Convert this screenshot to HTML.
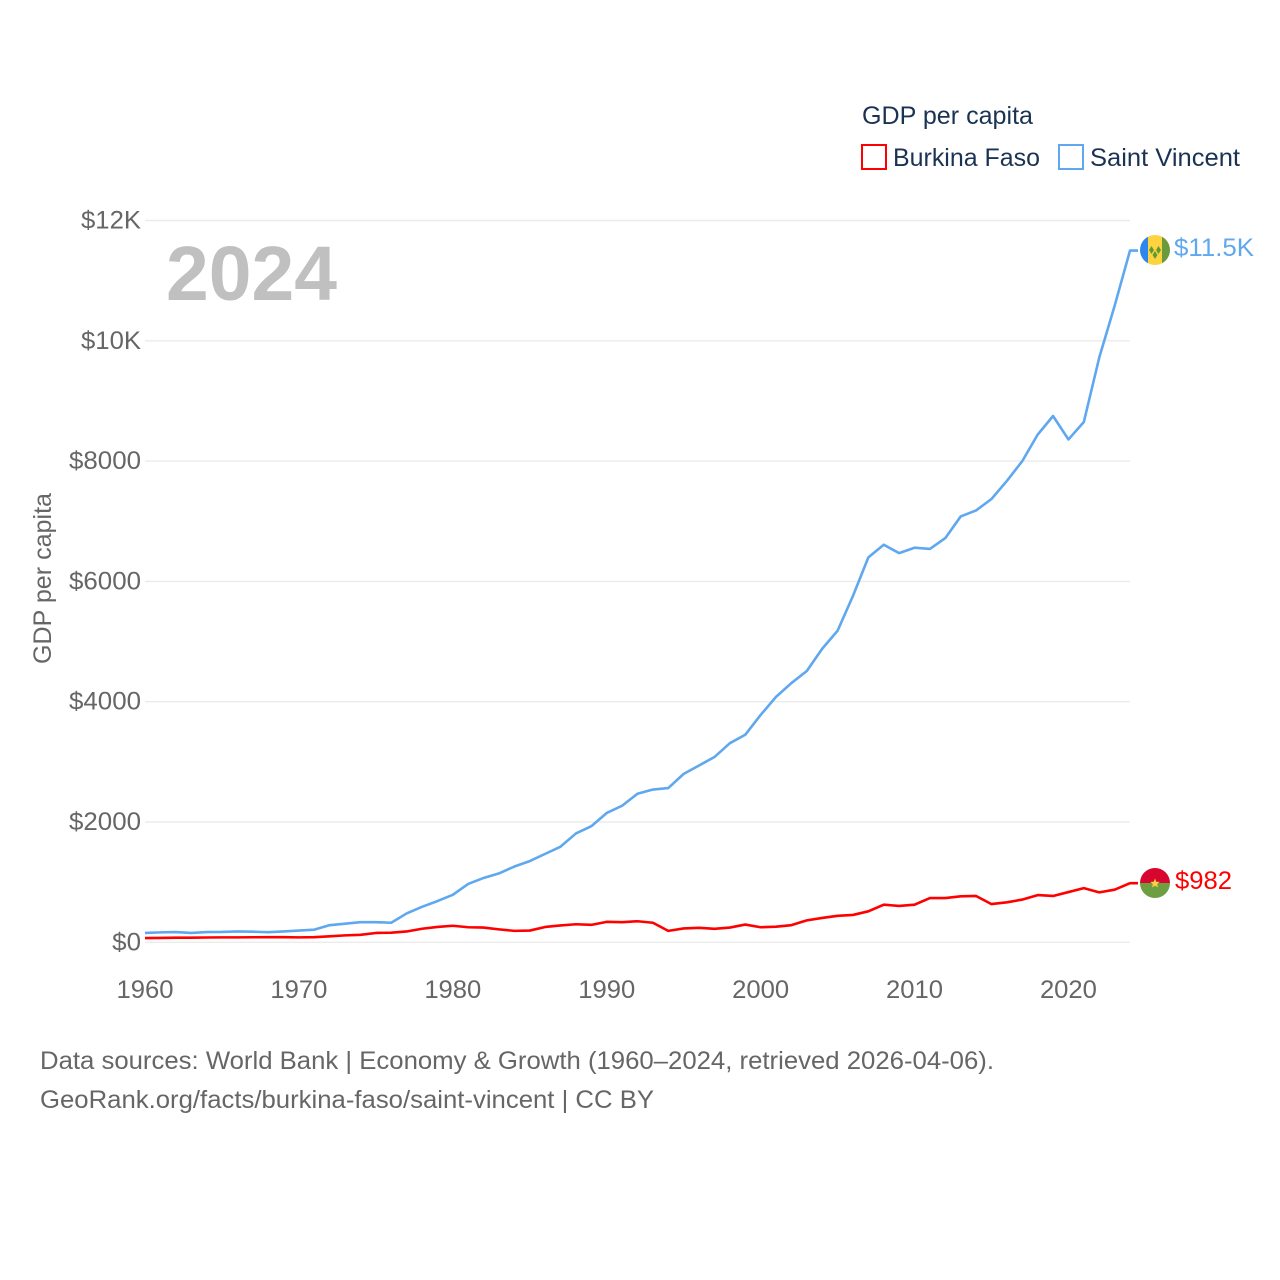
<!DOCTYPE html>
<html lang="en">
<head>
<meta charset="utf-8">
<title>GDP per capita: Burkina Faso vs Saint Vincent</title>
<style>
html,body{margin:0;padding:0;background:#fff;}
svg{display:block;font-family:"Liberation Sans",sans-serif;}
</style>
</head>
<body>
<svg id="chart" xmlns="http://www.w3.org/2000/svg" width="1280" height="1280" viewBox="0 0 1280 1280">
  <rect x="0" y="0" width="1280" height="1280" fill="#ffffff"/>
  <g id="grid"></g>
  <g id="yticks"></g>
  <g id="xticks"></g>
  <text transform="translate(51 664) rotate(-90)" font-size="25" fill="#666666" textLength="171" lengthAdjust="spacingAndGlyphs">GDP per capita</text>
  <text x="166" y="300" font-size="77" font-weight="700" fill="#c0c0c0" textLength="171" lengthAdjust="spacingAndGlyphs">2024</text>
  <g id="series"></g>

  <g>
    <text x="862" y="124" font-size="25" fill="#1b3353" textLength="171" lengthAdjust="spacingAndGlyphs">GDP per capita</text>
    <g>
      <rect x="862" y="145" width="24" height="24" fill="none" stroke="#ff0000" stroke-width="2"/>
      <text x="893" y="166" font-size="25" fill="#1b3353" textLength="147" lengthAdjust="spacingAndGlyphs">Burkina Faso</text>
    </g>
    <g>
      <rect x="1059" y="145" width="24" height="24" fill="none" stroke="#5fa8ef" stroke-width="2"/>
      <text x="1090" y="166" font-size="25" fill="#1b3353" textLength="150" lengthAdjust="spacingAndGlyphs">Saint Vincent</text>
    </g>
  </g>

  <defs>
    <clipPath id="flag-clip-a"><circle cx="1155" cy="250" r="15"/></clipPath>
    <clipPath id="flag-clip-b"><circle cx="1155" cy="883" r="15"/></clipPath>
  </defs>
  <g id="flag-vc" clip-path="url(#flag-clip-a)">
    <rect x="1140" y="235" width="8" height="30" fill="#2f86ee"/>
    <rect x="1148" y="235" width="14" height="30" fill="#fdd43f"/>
    <rect x="1162" y="235" width="8" height="30" fill="#6a9a3c"/>
    <path d="M1151.500 246l2.500 4-2.500 4-2.500-4zM1158.500 246l2.500 4-2.500 4-2.500-4zM1155 251l2.500 4-2.500 4-2.500-4z" fill="#5f9a38"/>
  </g>
  <g id="flag-bf" clip-path="url(#flag-clip-b)">
    <rect x="1140" y="868" width="30" height="15" fill="#d8052f"/>
    <rect x="1140" y="883" width="30" height="15" fill="#6f9e42"/>
    <path d="M1155 878.500l1.300 3.200 3.400.2-2.600 2.200.9 3.300-3-1.800-3 1.800.9-3.300-2.600-2.200 3.400-.2z" fill="#fdd43f"/>
  </g>
  <text id="label-vc" x="1174" y="256" font-size="25" fill="#5fa8ef" textLength="80" lengthAdjust="spacingAndGlyphs"></text>
  <text id="label-bf" x="1175" y="889" font-size="25" fill="#ff0000" textLength="57" lengthAdjust="spacingAndGlyphs"></text>

  <g>
    <text x="40" y="1069" font-size="25" fill="#666666" textLength="954" lengthAdjust="spacingAndGlyphs">Data sources: World Bank | Economy &amp; Growth (1960–2024, retrieved 2026-04-06).</text>
    <text x="40" y="1108" font-size="25" fill="#666666" textLength="614" lengthAdjust="spacingAndGlyphs">GeoRank.org/facts/burkina-faso/saint-vincent | CC BY</text>
  </g>
</svg>
<script>
const years = [1960,1961,1962,1963,1964,1965,1966,1967,1968,1969,1970,1971,1972,1973,1974,1975,1976,1977,1978,1979,1980,1981,1982,1983,1984,1985,1986,1987,1988,1989,1990,1991,1992,1993,1994,1995,1996,1997,1998,1999,2000,2001,2002,2003,2004,2005,2006,2007,2008,2009,2010,2011,2012,2013,2014,2015,2016,2017,2018,2019,2020,2021,2022,2023,2024];
const saintVincent = [155,165,170,155,170,172,180,176,168,180,195,210,285,310,335,335,325,480,590,685,790,970,1070,1145,1260,1350,1470,1590,1810,1930,2150,2270,2470,2540,2565,2800,2940,3080,3310,3450,3780,4080,4310,4510,4880,5180,5760,6400,6610,6470,6560,6540,6720,7080,7180,7370,7670,8000,8440,8750,8360,8650,9720,10580,11500];
const burkinaFaso = [70,72,76,76,80,82,82,84,85,85,82,85,100,115,125,155,160,180,225,255,275,250,245,215,190,195,255,280,300,290,340,335,350,325,190,230,240,225,245,295,250,260,285,365,405,440,455,515,625,605,625,735,735,765,770,635,665,710,785,770,835,900,830,875,982];
const yTickValues = [0,2000,4000,6000,8000,10000,12000];
const yTickLabels = ["$0","$2000","$4000","$6000","$8000","$10K","$12K"];
const xTickValues = [1960,1970,1980,1990,2000,2010,2020];
const valueLabels = ["$11.5K","$982"];

const NS = "http://www.w3.org/2000/svg";
const plotLeft = 145, plotRight = 1130, plotTop = 220.5, plotBottom = 942.3;
function xScale(year){ return plotLeft + (year - 1960) * (plotRight - plotLeft) / (2024 - 1960); }
function yScale(v){ return plotBottom - v * (plotBottom - plotTop) / 12000; }
function svgEl(tag, attrs){
  const e = document.createElementNS(NS, tag);
  for (const k in attrs) e.setAttribute(k, attrs[k]);
  return e;
}

const grid = document.getElementById('grid');
const yG = document.getElementById('yticks');
yTickValues.forEach(function(v, i){
  const y = yScale(v);
  const line = svgEl('line', {x1: plotLeft, x2: plotRight, y1: y, y2: y, stroke: '#ebebeb', 'stroke-width': 1.4});
  
  
  grid.appendChild(line);
  const label = yTickLabels[i];
  const labelWidth = label.endsWith('K') ? 60 : label.length * 14.4;
  const t = svgEl('text', {x: 141, y: y + 8, 'font-size': 25, fill: '#666666', 'text-anchor': 'end', textLength: labelWidth, lengthAdjust: 'spacingAndGlyphs'});
  
  
  t.textContent = label;
  yG.appendChild(t);
});

const xG = document.getElementById('xticks');
xTickValues.forEach(function(yr){
  const t = svgEl('text', {x: xScale(yr), y: 998, 'font-size': 25, fill: '#666666', 'text-anchor': 'middle', textLength: 57, lengthAdjust: 'spacingAndGlyphs'});
  
  
  t.textContent = yr;
  xG.appendChild(t);
});

const seriesG = document.getElementById('series');
function drawSeries(values, color, name, connectorEnd){
  const pts = values.map(function(v, i){ return xScale(years[i]).toFixed(2) + ',' + yScale(v).toFixed(2); });
  const last = values[values.length - 1];
  pts.push(connectorEnd + ',' + yScale(last).toFixed(2));
  const p = svgEl('polyline', {points: pts.join(' '), fill: 'none', stroke: color, 'stroke-width': 2.6, 'stroke-linejoin': 'round'});
  
  
  seriesG.appendChild(p);
}
drawSeries(saintVincent, '#5fa8ef', 'series-line-saint-vincent', 1138);
drawSeries(burkinaFaso, '#ff0000', 'series-line-burkina-faso', 1138);

document.getElementById('label-vc').textContent = valueLabels[0];
document.getElementById('label-bf').textContent = valueLabels[1];
</script>
</body>
</html>
